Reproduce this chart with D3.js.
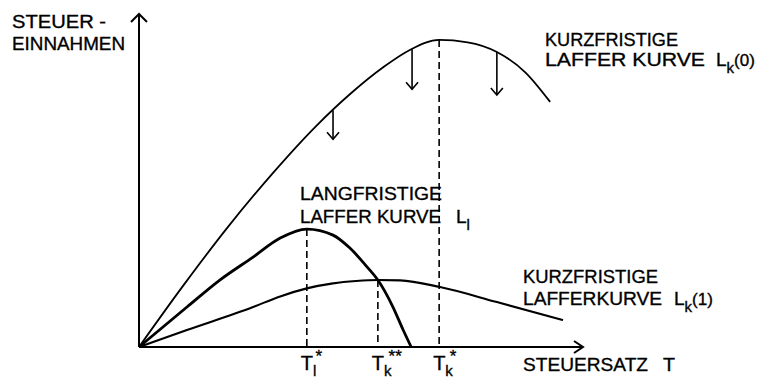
<!DOCTYPE html>
<html>
<head>
<meta charset="utf-8">
<script src="https://cdn.jsdelivr.net/npm/d3@7"></script>
<style>
  body { margin: 0; background: #fff; }
  text { font-family: "Liberation Sans", Arial, sans-serif; fill: #000; stroke: #000; stroke-width: 0.35; }
</style>
</head>
<body>
<div id="chart"></div>
<script>
// tax rate T (0..100) and revenue (0..100)
const upperT = [0, 10, 20, 30, 40, 48, 55, 61, 67.6, 74, 80.6, 87, 92.6];
const upperR = [0, 18.5, 36, 52, 66.5, 76.5, 84, 89.2, 92.2, 91.5, 88.6, 82.5, 73.6];

const longT = [0, 10.8, 18.2, 25.7, 31.8, 37.8, 43.7, 47.5, 51.4, 53.8, 57.2, 59.5, 61.3];
const longR = [0, 12.0, 20.1, 27.0, 32.7, 35.4, 33.6, 29.7, 24.0, 20.1, 12.0, 5.1, 0];

const lowerT = [0, 10.8, 25.7, 31.8, 37.8, 43.7, 48.9, 53.8, 58.8, 67.8, 80.6, 95.5];
const lowerR = [0, 5.1, 12.0, 15.2, 17.6, 19.1, 19.8, 20.1, 20.0, 18.0, 13.5, 8.1];

// optimal tax rates with dashed drop lines
const optT = [37.8, 53.8, 67.6];
const optR = [35.4, 20.1, 92.2];
const optSub = ["l", "k", "k"];
const optStar = ["*", "**", "*"];

// downward shift arrows on the short-run curve
const arrowT = [43.7, 61.5, 80.6];
const arrowFrom = [71.1, 89.4, 88.6];
const arrowTo = [62.4, 77.4, 75.7];

const W = 759, H = 378;

const svg = d3.select("#chart").append("svg")
  .attr("width", W)
  .attr("height", H);

const x = d3.scaleLinear().domain([0, 100]).range([139, 583]);
const y = d3.scaleLinear().domain([0, 100]).range([347, 14]);

// axes
svg.append("line")
  .attr("x1", x(0)).attr("y1", y(0)).attr("x2", x(0)).attr("y2", y(100))
  .attr("stroke", "#000").attr("stroke-width", 2);
svg.append("path")
  .attr("d", `M${x(0) - 8},${y(100) + 8} L${x(0)},${y(100)} L${x(0) + 8},${y(100) + 8}`)
  .attr("fill", "none").attr("stroke", "#000").attr("stroke-width", 2);

svg.append("line")
  .attr("x1", x(0)).attr("y1", y(0)).attr("x2", x(100)).attr("y2", y(0))
  .attr("stroke", "#000").attr("stroke-width", 2.2);
svg.append("path")
  .attr("d", `M${x(100) - 9},${y(0) - 6} L${x(100)},${y(0)} L${x(100) - 9},${y(0) + 6}`)
  .attr("fill", "none").attr("stroke", "#000").attr("stroke-width", 2);

// dashed lines
svg.selectAll(".drop")
  .data(optT)
  .enter()
  .append("line")
  .attr("class", "drop")
  .attr("x1", (d) => x(d)).attr("x2", (d) => x(d))
  .attr("y1", (d, i) => y(optR[i])).attr("y2", y(0))
  .attr("stroke", "#000").attr("stroke-width", 1.6)
  .attr("stroke-dasharray", "7,4");

// curves
const line = d3.line()
  .x((d) => x(d[0]))
  .y((d) => y(d[1]))
  .curve(d3.curveMonotoneX);

svg.append("path")
  .datum(upperT.map((t, i) => [t, upperR[i]]))
  .attr("d", line)
  .attr("fill", "none").attr("stroke", "#000").attr("stroke-width", 1.8);

svg.append("path")
  .datum(lowerT.map((t, i) => [t, lowerR[i]]))
  .attr("d", line)
  .attr("fill", "none").attr("stroke", "#000").attr("stroke-width", 2.1);

svg.append("path")
  .datum(longT.map((t, i) => [t, longR[i]]))
  .attr("d", line)
  .attr("fill", "none").attr("stroke", "#000").attr("stroke-width", 2.8);

// shift arrows
const arrows = svg.selectAll(".shift")
  .data(arrowT)
  .enter()
  .append("g")
  .attr("class", "shift");
arrows.append("line")
  .attr("x1", (d) => x(d)).attr("x2", (d) => x(d))
  .attr("y1", (d, i) => y(arrowFrom[i])).attr("y2", (d, i) => y(arrowTo[i]))
  .attr("stroke", "#000").attr("stroke-width", 1.6);
arrows.append("path")
  .attr("d", (d, i) => {
    const tx = x(d), ty = y(arrowTo[i]);
    return `M${tx - 6},${ty - 7} L${tx},${ty} L${tx + 6},${ty - 7}`;
  })
  .attr("fill", "none").attr("stroke", "#000").attr("stroke-width", 1.6);

// x tick labels T_l*, T_k**, T_k*
const ticks = svg.selectAll(".tlab")
  .data(optT)
  .enter()
  .append("text")
  .attr("class", "tlab")
  .attr("x", (d) => x(d) - 6)
  .attr("y", 370)
  .style("font-size", "20px");
ticks.append("tspan").text("T");
ticks.append("tspan")
  .attr("dy", 6).style("font-size", "15px")
  .text((d, i) => optSub[i]);
ticks.append("tspan")
  .attr("dx", (d, i) => optSub[i] === "l" ? -1 : -3)
  .attr("dy", -14).style("font-size", "17px")
  .text((d, i) => optStar[i]);

// labels
function label(txt, lx, ly, len) {
  svg.append("text")
    .attr("x", lx).attr("y", ly)
    .attr("textLength", len)
    .attr("lengthAdjust", "spacingAndGlyphs")
    .style("font-size", "19px")
    .text(txt);
}

label("STEUER -", 12, 28, 94);
label("EINNAHMEN", 12, 50, 113);
label("STEUERSATZ", 523, 371, 125);
label("T", 663, 371, 12);

label("KURZFRISTIGE", 545, 46, 133);
label("LAFFER KURVE", 545, 66, 160);

label("LANGFRISTIGE", 300, 200, 142);
label("LAFFER KURVE", 300, 223, 141);

label("KURZFRISTIGE", 523, 283, 135);
label("LAFFERKURVE", 523, 305, 139);

// curve symbols L_k(0), L_l, L_k(1)
function sym(lx, ly, sub, tail) {
  const t = svg.append("text")
    .attr("x", lx).attr("y", ly)
    .style("font-size", "19px");
  t.append("tspan").text("L");
  t.append("tspan").attr("dy", 7).style("font-size", "15px").text(sub);
  if (tail) t.append("tspan").attr("dy", -7).style("font-size", "17px").text(tail);
}

sym(716, 66, "k", "(0)");
sym(456, 223, "l", null);
sym(674, 305, "k", "(1)");
</script>
</body>
</html>
